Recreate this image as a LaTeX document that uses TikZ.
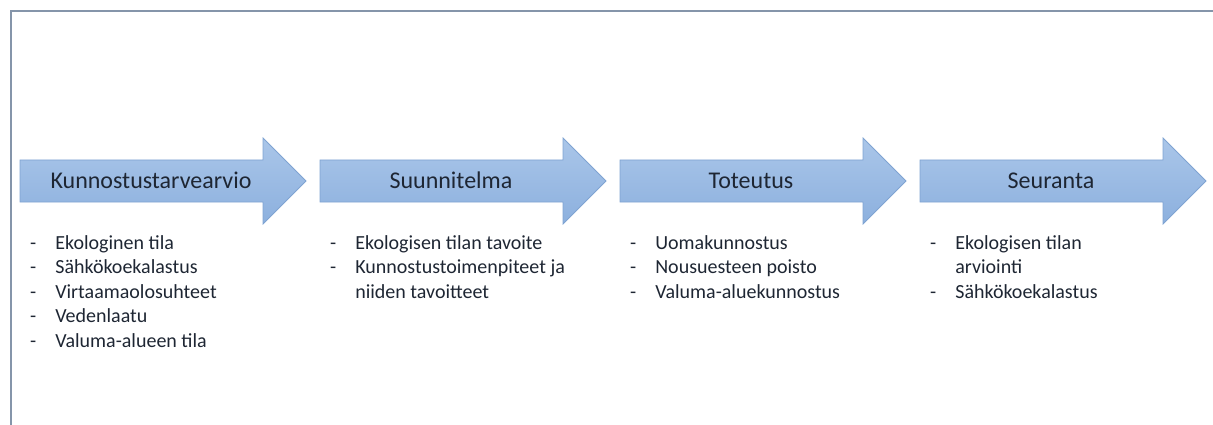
\documentclass[tikz,border=0pt]{standalone}
\usepackage{fontspec}
\setmainfont{Carlito}
\usepackage{tikz}

\definecolor{arrowtop}{HTML}{AAC6E9}
\definecolor{arrowbot}{HTML}{8CB0DE}
\definecolor{arrowline}{HTML}{7FA3D2}
\definecolor{framecol}{HTML}{8595AA}
\definecolor{textcol}{HTML}{1E2633}

\newcommand{\steplist}[1]{\fontsize{20}{24.6}\selectfont
  \begin{tabular}[t]{@{}l@{\hspace{19pt}}l@{}}#1\end{tabular}}

\begin{document}
\begin{tikzpicture}
  [x=1pt, y=-1pt,
   phase/.style={draw=arrowline, line width=0.8pt, top color=arrowtop, bottom color=arrowbot},
   title/.style={anchor=base, text=textcol, font=\fontsize{24}{28}\selectfont},
   items/.style={anchor=base west, inner sep=0pt, text=textcol}]
  \useasboundingbox (0, 0) rectangle (1213, 425);
  \draw[framecol, line width=1.2pt] (11, 425) -- (11, 11) -- (1213, 11);
  \foreach \x in {20, 320, 620, 920}
    \draw[phase] (\x, 160) -- (\x+243, 160) -- (\x+243, 138) -- (\x+286, 181)
      -- (\x+243, 224) -- (\x+243, 202) -- (\x, 202) -- cycle;
  \node[title] (kunnostus) at (151, 189) {Kunnostustarvearvio};
  \node[title] (suunnitelma) at (451, 189) {Suunnitelma};
  \node[title] (toteutus) at (751, 189) {Toteutus};
  \node[title] (seuranta) at (1051, 189) {Seuranta};
  \node[items] (kunnostuslist) at (30, 249) {\steplist{
    - & Ekologinen tila\\
    - & Sähkökoekalastus\\
    - & Virtaamaolosuhteet\\
    - & Vedenlaatu\\
    - & Valuma-alueen tila}};
  \node[items] (suunnitelmalist) at (330, 249) {\steplist{
    - & Ekologisen tilan tavoite\\
    - & Kunnostustoimenpiteet ja\\
      & niiden tavoitteet}};
  \node[items] (toteutuslist) at (630, 249) {\steplist{
    - & Uomakunnostus\\
    - & Nousuesteen poisto\\
    - & Valuma-aluekunnostus}};
  \node[items] (seurantalist) at (930, 249) {\steplist{
    - & Ekologisen tilan\\
      & arviointi\\
    - & Sähkökoekalastus}};
\end{tikzpicture}
\end{document}
